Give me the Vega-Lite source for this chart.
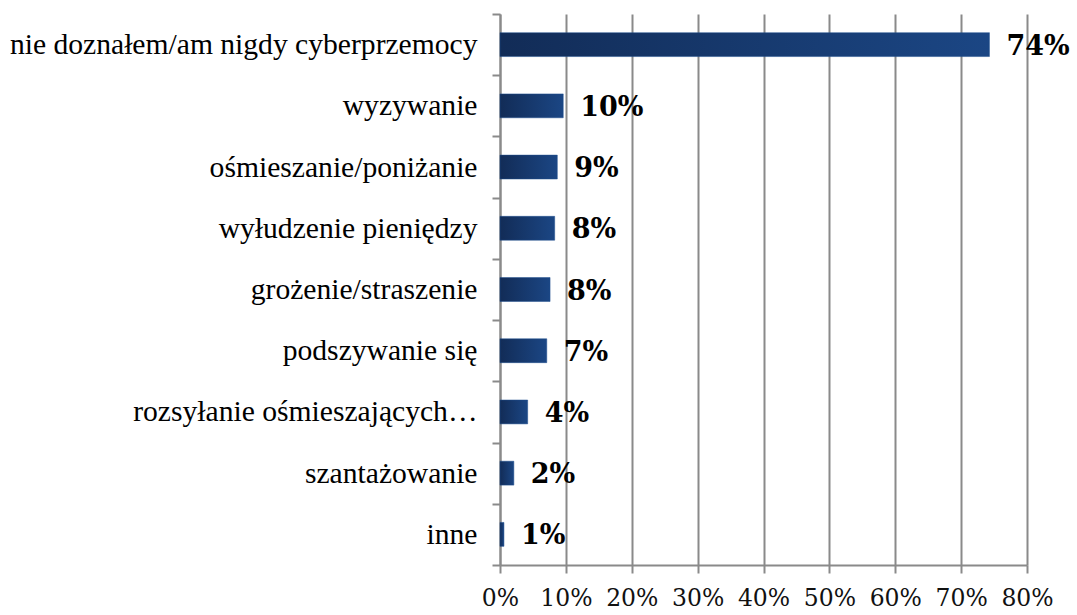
{
  "$schema": "https://vega.github.io/schema/vega-lite/v6.json",
  "autosize": "none",
  "width": 527,
  "height": 551,
  "padding": {"left": 500, "top": 14, "right": 50, "bottom": 50},
  "background": "white",
  "data": {
    "values": [
      {"kategoria": "nie doznałem/am nigdy cyberprzemocy", "udzial": 0.743},
      {"kategoria": "wyzywanie", "udzial": 0.096},
      {"kategoria": "ośmieszanie/poniżanie", "udzial": 0.087},
      {"kategoria": "wyłudzenie pieniędzy", "udzial": 0.083},
      {"kategoria": "grożenie/straszenie", "udzial": 0.076},
      {"kategoria": "podszywanie się", "udzial": 0.071},
      {"kategoria": "rozsyłanie ośmieszających…", "udzial": 0.042},
      {"kategoria": "szantażowanie", "udzial": 0.021},
      {"kategoria": "inne", "udzial": 0.006}
    ]
  },
  "encoding": {
    "y": {
      "field": "kategoria",
      "type": "nominal",
      "sort": null,
      "scale": {"paddingInner": 0, "paddingOuter": 0},
      "axis": {
        "title": null,
        "tickBand": "extent",
        "grid": false,
        "domainColor": "#8a8a8a",
        "domainWidth": 2,
        "tickColor": "#8a8a8a",
        "tickWidth": 2,
        "tickSize": 8,
        "labelFont": "Liberation Serif",
        "labelFontSize": 29.6,
        "labelColor": "#000000",
        "labelPadding": 15,
        "labelLimit": 600
      }
    },
    "x": {
      "field": "udzial",
      "type": "quantitative",
      "scale": {"domain": [0, 0.8], "nice": false},
      "axis": {
        "title": null,
        "format": ".0%",
        "values": [0, 0.1, 0.2, 0.3, 0.4, 0.5, 0.6, 0.7, 0.8],
        "grid": true,
        "gridColor": "#8a8a8a",
        "gridWidth": 2,
        "domainColor": "#8a8a8a",
        "domainWidth": 2,
        "tickColor": "#8a8a8a",
        "tickWidth": 2,
        "tickSize": 8,
        "labelFont": "DejaVu Serif",
        "labelFontSize": 23.5,
        "labelColor": "#111111",
        "labelPadding": 13,
        "labelFlush": false
      }
    }
  },
  "layer": [
    {
      "mark": {
        "type": "bar",
        "height": {"band": 0.39},
        "color": {
          "gradient": "linear",
          "x1": 0, "y1": 0, "x2": 1, "y2": 0,
          "stops": [
            {"offset": 0, "color": "#122c57"},
            {"offset": 1, "color": "#1b4684"}
          ]
        },
        "stroke": "#1f4f8f",
        "strokeWidth": 0.5
      }
    },
    {
      "mark": {
        "type": "text",
        "align": "left",
        "baseline": "middle",
        "dx": 17,
        "dy": 2,
        "font": "DejaVu Serif",
        "fontWeight": "bold",
        "fontSize": 27,
        "color": "#000000"
      },
      "encoding": {
        "text": {"field": "udzial", "type": "quantitative", "format": ".0%"}
      }
    }
  ],
  "config": {"view": {"stroke": null}}
}
